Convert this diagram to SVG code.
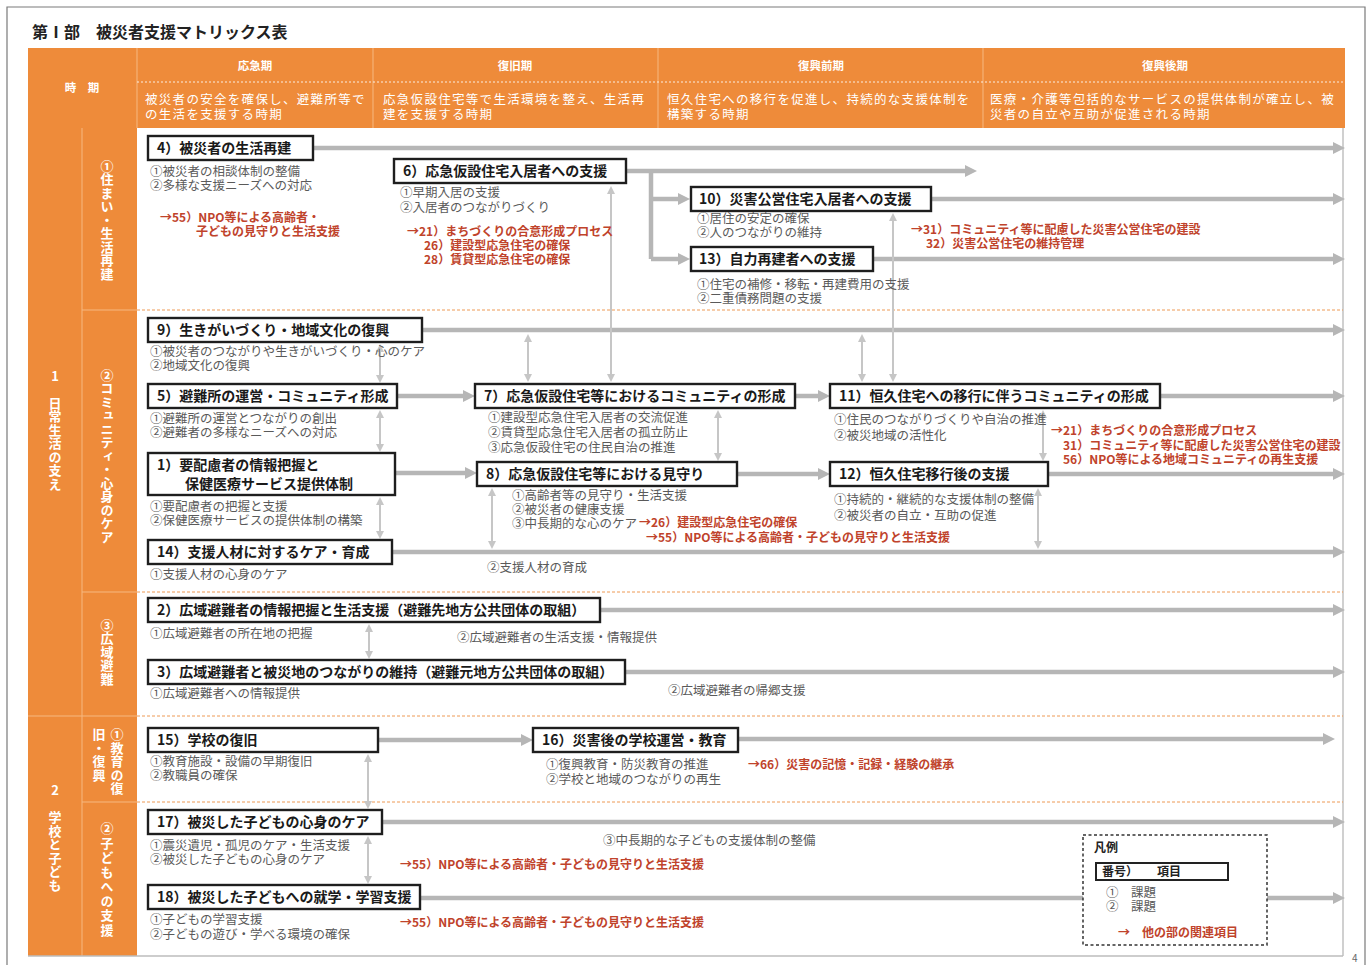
<svg xmlns="http://www.w3.org/2000/svg" width="1368" height="965" viewBox="0 0 1368 965">
<style>
text{font-family:"Noto Sans CJK JP","Noto Sans",sans-serif}
.bt{font-size:14px;font-weight:700;fill:#1a1a1a}
.st{font-size:12.5px;fill:#5a5a5a}
.rt{font-size:12px;font-weight:700;fill:#c0432b}
.ht{font-size:12.5px;fill:#fff;letter-spacing:1.3px}
.hl{font-size:11.5px;font-weight:700;fill:#fff}
.vt{font-size:13px;font-weight:700;fill:#fff;writing-mode:vertical-rl;text-orientation:upright;letter-spacing:0.5px}
.box{fill:#fff;stroke:#1e1e1e;stroke-width:2.4}
.ml{fill:none;stroke:#b6b6b6;stroke-width:4.5;marker-end:url(#ah)}
.ln{fill:none;stroke:#b6b6b6;stroke-width:4.5}
.va{fill:none;stroke:#c6c6c6;stroke-width:2;marker-start:url(#sh);marker-end:url(#sh)}
.sep{stroke:#ee9a55;stroke-width:1;stroke-dasharray:3 2}
.ldiv{stroke:#f6b880;stroke-width:1}
</style>
<defs>
<marker id="ah" viewBox="0 0 12 12" refX="4" refY="6" markerWidth="12" markerHeight="12" markerUnits="userSpaceOnUse" orient="auto"><path d="M0,0 L12,6 L0,12 z" fill="#b6b6b6"/></marker>
<marker id="sh" viewBox="0 0 8 8" refX="5" refY="4" markerWidth="8" markerHeight="8" markerUnits="userSpaceOnUse" orient="auto-start-reverse"><path d="M0,0 L8,4 L0,8 z" fill="#c6c6c6"/></marker>
</defs>
<rect x="0" y="0" width="1368" height="965" fill="#fff"/>
<!-- page frame -->
<path d="M7,966 V7 H1365 V966" fill="none" stroke="#7a7a7a" stroke-width="1.2"/>
<text x="1352" y="962" font-size="10" fill="#666">4</text>
<text x="32" y="38" font-size="16" font-weight="700" fill="#222">第Ⅰ部　被災者支援マトリックス表</text>

<!-- header -->
<g id="header">
<rect x="28" y="48" width="1317" height="80" fill="#ee8b3a"/>
<rect x="28" y="128" width="109" height="828" fill="#ee8b3a"/>
<g class="ldiv">
<line x1="137" y1="48" x2="137" y2="128"/>
<line x1="373" y1="48" x2="373" y2="128"/>
<line x1="658" y1="48" x2="658" y2="128"/>
<line x1="983" y1="48" x2="983" y2="128"/>
<line x1="82" y1="128" x2="82" y2="956"/>
<line x1="82" y1="310" x2="137" y2="310"/>
<line x1="82" y1="592" x2="137" y2="592"/>
<line x1="28" y1="716" x2="137" y2="716"/>
<line x1="82" y1="802" x2="137" y2="802"/>
</g>
<line x1="137" y1="82" x2="1345" y2="82" stroke="#fff" stroke-width="1" stroke-dasharray="2 2" opacity="0.85"/>
<text class="hl" x="82" y="92" text-anchor="middle" font-size="12">時　期</text>
<text class="hl" x="255" y="70" text-anchor="middle">応急期</text>
<text class="hl" x="515" y="70" text-anchor="middle">復旧期</text>
<text class="hl" x="821" y="70" text-anchor="middle">復興前期</text>
<text class="hl" x="1165" y="70" text-anchor="middle">復興後期</text>
<text class="ht" x="145" y="104">被災者の安全を確保し、避難所等で<tspan x="145" dy="15">の生活を支援する時期</tspan></text>
<text class="ht" x="383" y="104">応急仮設住宅等で生活環境を整え、生活再<tspan x="383" dy="15">建を支援する時期</tspan></text>
<text class="ht" x="667" y="104">恒久住宅への移行を促進し、持続的な支援体制を<tspan x="667" dy="15">構築する時期</tspan></text>
<text class="ht" x="990" y="104">医療・介護等包括的なサービスの提供体制が確立し、被<tspan x="990" dy="15">災者の自立や互助が促進される時期</tspan></text>
<text class="vt" x="55" y="430" text-anchor="middle">1 日常生活の支え</text>
<text class="vt" x="107" y="220" text-anchor="middle">①住まい・生活再建</text>
<text class="vt" x="107" y="456" text-anchor="middle">②コミュニティ・心身のケア</text>
<text class="vt" x="107" y="652" text-anchor="middle">③広域避難</text>
<text class="vt" x="55" y="838" text-anchor="middle">2 学校と子ども</text>
<text class="vt" x="117" y="728">①教育の復</text>
<text class="vt" x="99" y="728">旧・復興</text>
<text class="vt" x="107" y="880" text-anchor="middle" style="letter-spacing:1.5px">②子どもへの支援</text>
</g>

<!-- body frame and separators -->
<g id="frame">
<line x1="1343" y1="128" x2="1343" y2="956" stroke="#c0c0c0" stroke-width="1.5"/>
<line x1="28" y1="956" x2="1343" y2="956" stroke="#bdbdbd" stroke-width="1.5"/>
<line class="sep" x1="137" y1="310" x2="1343" y2="310"/>
<line class="sep" x1="137" y1="592" x2="1343" y2="592"/>
<line class="sep" x1="137" y1="716" x2="1343" y2="716"/>
<line class="sep" x1="137" y1="802" x2="1343" y2="802" stroke="#f3c59f"/>
</g>

<!-- connectors -->
<g id="connectors">
<path class="ml" d="M313,148 H1337"/>
<path class="ml" d="M626,171 H969"/>
<path class="ln" d="M651,171 V259"/>
<path class="ml" d="M651,199 H682"/>
<path class="ml" d="M651,259 H682"/>
<path class="ml" d="M931,199 H1337"/>
<path class="ml" d="M873,259 H1337"/>
<path class="ml" d="M422,330 H1337"/>
<path class="ml" d="M397,396 H467"/>
<path class="ml" d="M795,396 H822"/>
<path class="ml" d="M1160,396 H1337"/>
<path class="ml" d="M395,473 H469"/>
<path class="ml" d="M737,474 H822"/>
<path class="ml" d="M1048,474 H1337"/>
<path class="ml" d="M392,552 H1337"/>
<path class="ml" d="M600,610 H1337"/>
<path class="ml" d="M625,672 H1337"/>
<path class="ml" d="M378,740 H525"/>
<path class="ml" d="M738,739 H1327"/>
<path class="ml" d="M382,822 H1337"/>
<path class="ml" d="M420,898 H1337"/>
<path class="va" d="M611,189 V379"/>
<path class="va" d="M893,216 V379"/>
<path class="va" d="M528,337 V379"/>
<path class="va" d="M862,337 V379"/>
<path class="va" d="M380,347 V380"/>
<path class="va" d="M380,413 V449"/>
<path class="va" d="M380,500 V536"/>
<path class="va" d="M718,413 V458"/>
<path class="va" d="M1043,413 V458"/>
<path class="va" d="M492,491 V546"/>
<path class="va" d="M1038,491 V546"/>
<path class="va" d="M369,627 V656"/>
<path class="va" d="M368,757 V806"/>
<path class="va" d="M368,839 V881"/>
</g>

<!-- nodes -->
<g id="n4">
<rect class="box" x="148" y="136" width="165" height="24"/>
<text class="bt" x="157" y="153">4）被災者の生活再建</text>
<text class="st" x="150" y="176">①被災者の相談体制の整備<tspan x="150" dy="14">②多様な支援ニーズへの対応</tspan></text>
<text class="rt" x="160" y="222">→55）NPO等による高齢者・<tspan x="196" dy="14">子どもの見守りと生活支援</tspan></text>
</g>
<g id="n6">
<rect class="box" x="394" y="159" width="232" height="24"/>
<text class="bt" x="403" y="176">6）応急仮設住宅入居者への支援</text>
<text class="st" x="400" y="197">①早期入居の支援<tspan x="400" dy="15">②入居者のつながりづくり</tspan></text>
<text class="rt" x="407" y="236">→21）まちづくりの合意形成プロセス<tspan x="424" dy="14">26）建設型応急住宅の確保</tspan><tspan x="424" dy="14">28）賃貸型応急住宅の確保</tspan></text>
</g>
<g id="n10">
<rect class="box" x="691" y="187" width="240" height="24"/>
<text class="bt" x="699" y="204">10）災害公営住宅入居者への支援</text>
<text class="st" x="697" y="223">①居住の安定の確保<tspan x="697" dy="14">②人のつながりの維持</tspan></text>
<text class="rt" x="911" y="234">→31）コミュニティ等に配慮した災害公営住宅の建設<tspan x="926" dy="14">32）災害公営住宅の維持管理</tspan></text>
</g>
<g id="n13">
<rect class="box" x="691" y="247" width="182" height="24"/>
<text class="bt" x="699" y="264">13）自力再建者への支援</text>
<text class="st" x="697" y="289">①住宅の補修・移転・再建費用の支援<tspan x="697" dy="14">②二重債務問題の支援</tspan></text>
</g>
<g id="n9">
<rect class="box" x="148" y="318" width="274" height="24"/>
<text class="bt" x="157" y="335">9）生きがいづくり・地域文化の復興</text>
<text class="st" x="150" y="356">①被災者のつながりや生きがいづくり・心のケア<tspan x="150" dy="14">②地域文化の復興</tspan></text>
</g>
<g id="n5">
<rect class="box" x="148" y="384" width="249" height="24"/>
<text class="bt" x="157" y="401">5）避難所の運営・コミュニティ形成</text>
<text class="st" x="150" y="423">①避難所の運営とつながりの創出<tspan x="150" dy="14">②避難者の多様なニーズへの対応</tspan></text>
</g>
<g id="n1">
<rect class="box" x="148" y="453" width="247" height="42"/>
<text class="bt" x="157" y="470">1）要配慮者の情報把握と<tspan x="185" dy="19">保健医療サービス提供体制</tspan></text>
<text class="st" x="150" y="511">①要配慮者の把握と支援<tspan x="150" dy="14">②保健医療サービスの提供体制の構築</tspan></text>
</g>
<g id="n14">
<rect class="box" x="148" y="540" width="244" height="24"/>
<text class="bt" x="157" y="557">14）支援人材に対するケア・育成</text>
<text class="st" x="150" y="579">①支援人材の心身のケア</text>
<text class="st" x="487" y="572">②支援人材の育成</text>
</g>
<g id="n7">
<rect class="box" x="475" y="384" width="320" height="24"/>
<text class="bt" x="484" y="401">7）応急仮設住宅等におけるコミュニティの形成</text>
<text class="st" x="488" y="422">①建設型応急住宅入居者の交流促進<tspan x="488" dy="15">②賃貸型応急住宅入居者の孤立防止</tspan><tspan x="488" dy="15">③応急仮設住宅の住民自治の推進</tspan></text>
</g>
<g id="n8">
<rect class="box" x="477" y="462" width="260" height="24"/>
<text class="bt" x="486" y="479">8）応急仮設住宅等における見守り</text>
<text class="st" x="512" y="500">①高齢者等の見守り・生活支援<tspan x="512" dy="14">②被災者の健康支援</tspan><tspan x="512" dy="14">③中長期的な心のケア</tspan></text>
<text class="rt" x="639" y="527">→26）建設型応急住宅の確保<tspan x="646" dy="15">→55）NPO等による高齢者・子どもの見守りと生活支援</tspan></text>
</g>
<g id="n11">
<rect class="box" x="830" y="384" width="330" height="24"/>
<text class="bt" x="839" y="401">11）恒久住宅への移行に伴うコミュニティの形成</text>
<text class="st" x="834" y="424">①住民のつながりづくりや自治の推進<tspan x="834" dy="16">②被災地域の活性化</tspan></text>
<text class="rt" x="1051" y="435">→21）まちづくりの合意形成プロセス<tspan x="1063" dy="15">31）コミュニティ等に配慮した災害公営住宅の建設</tspan><tspan x="1063" dy="14">56）NPO等による地域コミュニティの再生支援</tspan></text>
</g>
<g id="n12">
<rect class="box" x="830" y="462" width="218" height="24"/>
<text class="bt" x="839" y="479">12）恒久住宅移行後の支援</text>
<text class="st" x="834" y="504">①持続的・継続的な支援体制の整備<tspan x="834" dy="16">②被災者の自立・互助の促進</tspan></text>
</g>
<g id="n2">
<rect class="box" x="148" y="598" width="452" height="24"/>
<text class="bt" x="157" y="615">2）広域避難者の情報把握と生活支援（避難先地方公共団体の取組）</text>
<text class="st" x="150" y="638">①広域避難者の所在地の把握</text>
<text class="st" x="457" y="642">②広域避難者の生活支援・情報提供</text>
</g>
<g id="n3">
<rect class="box" x="148" y="660" width="477" height="24"/>
<text class="bt" x="157" y="677">3）広域避難者と被災地のつながりの維持（避難元地方公共団体の取組）</text>
<text class="st" x="150" y="698">①広域避難者への情報提供</text>
<text class="st" x="668" y="695">②広域避難者の帰郷支援</text>
</g>
<g id="n15">
<rect class="box" x="148" y="728" width="230" height="24"/>
<text class="bt" x="157" y="745">15）学校の復旧</text>
<text class="st" x="150" y="766">①教育施設・設備の早期復旧<tspan x="150" dy="14">②教職員の確保</tspan></text>
</g>
<g id="n16">
<rect class="box" x="533" y="728" width="205" height="24"/>
<text class="bt" x="542" y="745">16）災害後の学校運営・教育</text>
<text class="st" x="546" y="769">①復興教育・防災教育の推進<tspan x="546" dy="15">②学校と地域のつながりの再生</tspan></text>
<text class="rt" x="748" y="769">→66）災害の記憶・記録・経験の継承</text>
</g>
<g id="n17">
<rect class="box" x="148" y="810" width="234" height="24"/>
<text class="bt" x="157" y="827">17）被災した子どもの心身のケア</text>
<text class="st" x="150" y="850">①震災遺児・孤児のケア・生活支援<tspan x="150" dy="14">②被災した子どもの心身のケア</tspan></text>
<text class="st" x="603" y="845">③中長期的な子どもの支援体制の整備</text>
<text class="rt" x="400" y="869">→55）NPO等による高齢者・子どもの見守りと生活支援</text>
</g>
<g id="n18">
<rect class="box" x="148" y="885" width="272" height="24"/>
<text class="bt" x="157" y="902">18）被災した子どもへの就学・学習支援</text>
<text class="st" x="150" y="924">①子どもの学習支援<tspan x="150" dy="15">②子どもの遊び・学べる環境の確保</tspan></text>
<text class="rt" x="400" y="927">→55）NPO等による高齢者・子どもの見守りと生活支援</text>
</g>

<!-- legend -->
<g id="legend">
<rect x="1083" y="835" width="184" height="110" fill="#fff" stroke="#333" stroke-width="1.5" stroke-dasharray="3 2.5"/>
<text x="1094" y="852" font-size="12" font-weight="700" fill="#222">凡例</text>
<rect x="1096" y="863" width="132" height="17" fill="#fff" stroke="#222" stroke-width="2"/>
<text x="1102" y="876" font-size="12" font-weight="700" fill="#222">番号）<tspan x="1157">項目</tspan></text>
<text class="st" x="1106" y="897">①　課題<tspan x="1106" dy="14">②　課題</tspan></text>
<text class="rt" x="1118" y="937">→　他の部の関連項目</text>
</g>
</svg>
